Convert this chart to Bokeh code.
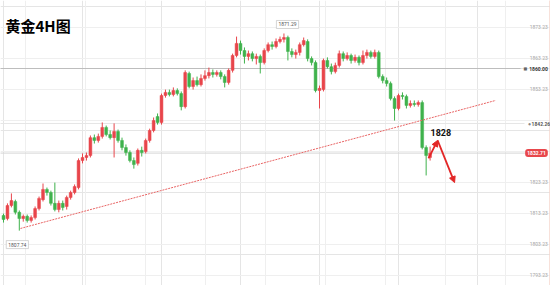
from bokeh.plotting import figure
from bokeh.models import (ColumnDataSource, FixedTicker, Grid, Arrow,
                          NormalHead, Range1d)
from bokeh.core.properties import value
from bokeh.embed import file_html
from bokeh.resources import INLINE

# ---------------- data (gold, 4H candles) ----------------
opens = [1812.6,1811.6,1815.8,1817.1,1813.6,1811.6,1812.3,1811.0,1811.9,1814.8,
         1817.7,1821.0,1820.0,1816.5,1814.5,1816.5,1815.5,1818.4,1820.0,1821.6,
         1830.3,1831.3,1831.9,1837.7,1836.8,1838.1,1841.0,1838.7,1837.7,1839.7,
         1836.8,1834.5,1832.9,1830.3,1829.4,1833.6,1833.2,1836.8,1840.0,1844.5,
         1842.6,1851.3,1852.3,1851.6,1852.9,1851.9,1847.7,1858.4,1854.2,1856.1,
         1854.8,1856.8,1857.7,1858.7,1858.1,1858.7,1857.4,1855.5,1859.4,1864.2,
         1868.1,1865.8,1863.9,1864.8,1863.2,1863.9,1861.9,1865.8,1867.7,1867.1,
         1868.7,1869.4,1870.0,1865.5,1864.5,1865.2,1867.7,1868.7,1863.2,1861.9,
         1852.9,1853.2,1862.6,1860.6,1859.0,1861.0,1864.8,1863.2,1864.2,1862.6,
         1863.6,1861.9,1864.2,1865.2,1863.9,1865.2,1857.4,1856.1,1855.2,1850.3,
         1847.1,1851.3,1851.0,1848.1,1848.7,1848.4,1849.0,1834.5,1831.3]
closes = [1811.3,1815.8,1817.4,1813.6,1811.6,1812.3,1811.0,1811.9,1814.8,1818.1,
          1821.0,1820.0,1816.5,1814.5,1816.5,1815.2,1818.4,1820.0,1821.9,1830.3,
          1831.3,1831.9,1837.7,1836.8,1838.1,1841.0,1838.7,1837.7,1839.7,1836.8,
          1834.5,1832.9,1830.3,1829.0,1833.6,1832.9,1836.8,1840.0,1843.2,1842.6,
          1851.3,1852.3,1851.6,1852.9,1851.9,1847.7,1858.7,1854.2,1856.1,1854.8,
          1856.8,1857.7,1858.7,1858.1,1858.7,1857.4,1855.5,1859.4,1864.2,1868.1,
          1865.8,1863.9,1864.8,1863.2,1863.9,1861.9,1865.8,1867.7,1867.1,1868.7,
          1869.4,1870.0,1865.5,1864.5,1865.2,1867.7,1869.0,1863.2,1861.9,1852.9,
          1853.6,1862.6,1860.6,1859.0,1861.0,1864.8,1863.2,1864.2,1862.6,1863.6,
          1861.9,1864.2,1865.2,1863.9,1865.2,1857.4,1856.1,1855.2,1850.3,1847.1,
          1851.3,1851.0,1848.1,1848.7,1848.4,1849.0,1834.5,1831.9,1832.7]
highs = [1813.2,1816.5,1819.7,1817.7,1814.2,1812.9,1812.9,1812.6,1815.5,1818.7,
         1822.9,1821.6,1820.6,1823.2,1817.4,1817.4,1819.0,1820.6,1822.6,1831.0,
         1832.6,1832.9,1838.4,1838.7,1839.0,1842.6,1841.6,1840.0,1842.3,1840.3,
         1837.7,1835.5,1833.6,1831.3,1834.2,1834.8,1837.4,1840.6,1844.2,1845.5,
         1851.9,1853.2,1853.2,1853.9,1853.6,1852.6,1859.4,1859.0,1857.1,1857.4,
         1858.1,1859.4,1860.3,1859.7,1859.4,1859.4,1858.1,1860.0,1864.8,1870.3,
         1869.0,1866.8,1865.8,1865.5,1864.8,1864.5,1866.5,1868.4,1868.7,1869.7,
         1870.3,1871.3,1870.6,1866.5,1866.1,1868.4,1870.0,1869.4,1863.9,1862.6,
         1854.5,1863.2,1863.6,1861.6,1861.9,1865.8,1865.5,1865.2,1864.8,1864.5,
         1864.2,1865.8,1866.1,1865.8,1866.1,1865.8,1858.1,1857.1,1855.8,1851.0,
         1851.9,1852.3,1851.6,1849.7,1849.7,1849.7,1849.7,1835.2,1834.8]
lows = [1810.3,1811.0,1815.2,1812.9,1807.7,1810.6,1810.3,1810.3,1811.3,1814.2,
        1817.1,1819.0,1815.8,1813.9,1813.6,1814.2,1814.5,1817.7,1819.4,1821.0,
        1829.4,1830.3,1831.3,1835.8,1836.1,1837.4,1838.1,1837.1,1831.3,1836.1,
        1833.6,1831.9,1829.7,1827.7,1828.7,1831.6,1832.6,1836.1,1839.4,1841.9,
        1841.9,1850.6,1851.0,1851.0,1851.3,1846.5,1847.1,1853.6,1853.2,1854.2,
        1854.2,1856.1,1856.8,1857.1,1857.4,1856.5,1853.9,1854.8,1858.7,1863.6,
        1864.5,1861.6,1862.6,1862.3,1861.3,1858.4,1861.3,1865.2,1866.1,1866.5,
        1868.1,1868.4,1862.6,1863.6,1863.2,1864.2,1867.1,1862.3,1861.0,1852.3,
        1847.1,1852.6,1860.0,1858.1,1858.4,1860.3,1862.3,1862.6,1861.6,1861.9,
        1861.0,1861.3,1863.2,1863.2,1863.2,1856.8,1855.2,1854.2,1849.7,1843.2,
        1846.5,1850.0,1847.1,1847.4,1847.7,1847.7,1833.9,1825.5,1830.3]
candle_idx = list(range(len(closes)))

# price scale labels (right side)
tick_values = [1873.23, 1863.23, 1853.23, 1823.23, 1813.23, 1803.23, 1793.23]
tick_labels = ["1873.23", "1863.23", "1853.23", "1823.23", "1813.23", "1803.23", "1793.23"]
grid_ticks = [1873.23, 1863.23, 1853.23, 1843.23, 1833.23, 1823.23, 1813.23, 1803.23, 1793.23]
vgrid_ticks = [5.6, 20.8, 36.0, 51.1, 66.3, 81.5, 96.7, 111.9, 127.1]

level_locked = 1860.00
level_mark = 1842.26
last_price = 1832.71
peak_price = 1871.29
peak_idx = 71.9
low_price = 1807.74
low_idx = 3.5

trend_x = [4.3, 124.6]
trend_y = [1808.4, 1849.7]
arrow_x = [107.6, 109.9, 114.2]
arrow_y = [1831.0, 1836.8, 1823.2]
target_text = "1828"
target_x = 108.1
target_y = 1839.4
title_text = "黄金4H图"

UP = "#e8454b"
DOWN = "#3fb24c"

# ---------------- figure ----------------
p = figure(width=550, height=285, output_backend="svg", toolbar_location=None,
           x_range=Range1d(-0.76, 138.48), y_range=Range1d(1790.0, 1881.94),
           x_axis_location=None, y_axis_location=None, min_border=0)
p.outline_line_color = None
p.background_fill_color = "white"

p.add_layout(Grid(dimension=1, ticker=FixedTicker(ticks=grid_ticks),
                  grid_line_color="#efefef", grid_line_width=1))
p.add_layout(Grid(dimension=0, ticker=FixedTicker(ticks=vgrid_ticks),
                  grid_line_color="#efefef", grid_line_width=1))

PANE_END = 130.9   # end of price pane (before the price scale)
SCALE_X = 137.8    # right edge of price-scale texts

# pale right border of scale
p.line([138.3, 138.3], [1780, 1890], line_color="#f6d6cc", line_width=1)

# level lines
p.line([-1, PANE_END], [level_locked, level_locked], line_color="#bdbdbd", line_width=1)
p.line([-1, PANE_END + 1.0], [level_mark, level_mark], line_color="#e6e6e6", line_width=1)
p.line([-1, PANE_END + 1.5], [last_price, last_price], line_color="#d6d6d6", line_width=1)

# candles
colors = [UP if c >= o else DOWN for o, c in zip(opens, closes)]
src = ColumnDataSource(dict(x=candle_idx, o=opens, c=closes, h=highs, l=lows,
                            top=[max(o, c) for o, c in zip(opens, closes)],
                            bot=[min(o, c) for o, c in zip(opens, closes)],
                            col=colors))
p.segment(x0="x", x1="x", y0="l", y1="h", color="col", line_width=1, source=src)
p.vbar(x="x", width=0.72, top="top", bottom="bot", fill_color="col",
       line_color="col", line_width=0.5, source=src)

# trend line
p.line(trend_x, trend_y, line_color="#e86464", line_width=1, line_dash="2 1")

# arrows
for k in range(2):
    p.add_layout(Arrow(end=NormalHead(size=6, fill_color="#e32626", line_color="#e32626"),
                       x_start=arrow_x[k], y_start=arrow_y[k],
                       x_end=arrow_x[k + 1], y_end=arrow_y[k + 1],
                       line_color="#e32626", line_width=1.8))

p.text(x=[target_x], y=[target_y], text=[target_text], text_font=value("Roboto"),
       text_font_style="bold", text_font_size="9px", text_color="#111111",
       text_baseline="middle", text_align="left")

# title
p.text(x=[0.5], y=[1873.9], text=[title_text], text_font=value("Noto Sans CJK SC"),
       text_font_style="bold", text_font_size="15px", text_color="#000000",
       text_baseline="middle", text_align="left")

# peak / low tags
p.text(x=[peak_idx, low_idx], y=[1874.2, 1803.2],
       text=[f"{peak_price:.2f}", f"{low_price:.2f}"],
       text_font=value("Roboto"), text_font_size="5px", text_color="#555555",
       text_align="center", text_baseline="middle",
       background_fill_color="#ffffff", border_line_color="#bbbbbb",
       border_line_width=0.6, padding=2)

# price scale labels
p.text(x=[SCALE_X] * len(tick_values), y=tick_values, text=tick_labels,
       text_font=value("Roboto"), text_font_size="5px", text_color="#a8a8a8",
       text_align="right", text_baseline="middle")

# price-scale tags
p.text(x=[SCALE_X], y=[level_locked], text=[f"{level_locked:.2f}"],
       text_font=value("Roboto"), text_font_size="5px", text_font_style="bold",
       text_color="#333333", text_align="right", text_baseline="middle")
p.text(x=[132.1], y=[level_locked], text=["■"], text_font=value("DejaVu Sans"),
       text_font_size="4px", text_color="#666666", text_align="center", text_baseline="middle")
p.text(x=[SCALE_X + 0.6], y=[level_mark], text=[f"{level_mark:.2f}"],
       text_font=value("Roboto"), text_font_size="5px", text_font_style="bold",
       text_color="#555555", text_align="right", text_baseline="middle")
p.text(x=[133.2], y=[level_mark], text=["●"], text_font=value("DejaVu Sans"),
       text_font_size="3px", text_color="#888888", text_align="center", text_baseline="middle")
p.text(x=[SCALE_X], y=[last_price], text=[f"{last_price:.2f}"],
       text_font=value("Roboto"), text_font_size="5px", text_font_style="bold",
       text_color="#ffffff", text_align="right", text_baseline="middle",
       background_fill_color="#e8474c", padding=2, border_radius=3)

open("out.html", "w").write(file_html(p, INLINE))
